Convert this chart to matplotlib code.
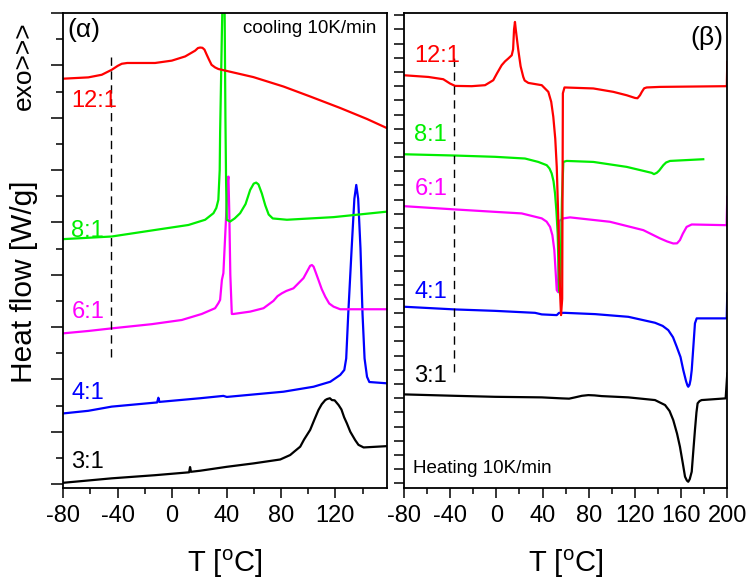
import matplotlib
matplotlib.use('Agg')
import matplotlib.pyplot as plt
from matplotlib.ticker import MultipleLocator, FixedLocator

plt.rcParams['font.family'] = ['Liberation Sans', 'DejaVu Sans']
plt.rcParams['axes.unicode_minus'] = False

# ---- cooling (alpha) ----
c12_T = [-80, -61.6, -51.7, -44.4, -40, -37, -33, -29.7, -12.5, -0.2, 9.6, 16.9, 19, 20.6, 22.3, 23.8, 25.5, 27.2, 29, 31.6, 34, 39, 59.8, 81.9, 101.5, 123.6, 143.3, 158]
c12_y = [15.49, 15.54, 15.64, 15.83, 15.98, 16.06, 16.09, 16.09, 16.09, 16.18, 16.34, 16.56, 16.66, 16.68, 16.67, 16.6, 16.4, 16.21, 16.02, 15.92, 15.86, 15.8, 15.55, 15.19, 14.81, 14.37, 13.95, 13.6]

c8_T = [-80, -44.4, -12.5, 12, 24.3, 30.4, 32.5, 34, 35, 35.3, 36.6, 37.3, 38.2, 39.2, 39.7, 40.2, 42.6, 46, 50, 54, 57.4, 60, 61.8, 63.5, 66, 68.5, 71, 74, 84.4, 118.7, 158]
c8_y = [9.36, 9.46, 9.71, 9.9, 10.1, 10.35, 10.55, 10.86, 12.0, 13.42, 17.25, 19.0, 21.0, 14.0, 11.5, 10.1, 10.03, 10.15, 10.35, 10.7, 11.24, 11.48, 11.52, 11.45, 11.1, 10.65, 10.3, 10.15, 10.1, 10.2, 10.41]

c6_T = [-80, -61.6, -44.4, -15, 7.1, 21.8, 31.6, 34, 35.3, 36.6, 37.7, 39.5, 40.8, 41.4, 42, 42.8, 43.9, 45.1, 57.4, 67.2, 74.5, 77.5, 80.7, 84, 89.2, 96.6, 99, 101.5, 102.8, 104, 105.5, 107.6, 110, 112.6, 115.5, 118.7, 123.6, 158]
c6_y = [5.76, 5.85, 5.95, 6.11, 6.27, 6.5, 6.72, 6.91, 7.04, 7.8, 8.06, 10.0, 11.5, 11.75, 10.5, 8.0, 6.5, 6.5, 6.59, 6.72, 7.0, 7.18, 7.29, 7.38, 7.48, 7.87, 8.1, 8.34, 8.37, 8.31, 8.1, 7.8, 7.45, 7.16, 6.9, 6.78, 6.68, 6.68]

c4_T = [-80, -61.6, -44.4, -11, -10.1, -9.3, 20.6, 37.7, 40.2, 81.9, 104, 116.3, 123.6, 126.6, 128, 129.5, 132, 134, 135.4, 136.8, 138.5, 140, 141.5, 143.3, 145, 158]
c4_y = [2.7, 2.8, 2.96, 3.12, 3.3, 3.14, 3.28, 3.37, 3.33, 3.53, 3.72, 3.91, 4.17, 4.36, 4.8, 6.5, 9.0, 10.9, 11.43, 10.9, 9.0, 6.5, 4.8, 4.1, 3.9, 3.85]

c3_T = [-80, -44.4, -12.5, 12.5, 13.2, 13.9, 20.6, 40.2, 59.8, 79.5, 86.8, 90, 94.2, 97, 101.5, 104.5, 107.6, 110, 112.6, 114, 116, 117.5, 119.5, 122.4, 124.5, 126.5, 128.5, 131, 134.6, 137, 140.8, 158]
c3_y = [0.05, 0.22, 0.34, 0.45, 0.65, 0.47, 0.51, 0.66, 0.79, 0.94, 1.11, 1.25, 1.43, 1.7, 2.07, 2.45, 2.83, 3.05, 3.21, 3.25, 3.28, 3.21, 3.2, 3.02, 2.85, 2.55, 2.32, 2.0, 1.68, 1.5, 1.4, 1.45]

# ---- heating (beta) ----
h12_T = [-80, -58.9, -46, -40.2, -35.8, -21.4, -9.8, -2.7, 0.5, 4.6, 7.5, 10.3, 13.3, 14.5, 15.3, 16.1, 16.8, 18, 19, 21, 23.3, 24.5, 27.7, 39.3, 45, 47.5, 49.3, 51, 52.3, 53.5, 54.5, 55.3, 56, 57, 57.6, 59, 84, 101.3, 112.9, 120.1, 122.2, 124.4, 126, 128, 130.2, 141.7, 199.6, 200]
h12_y = [28.77, 28.65, 28.49, 28.19, 28.02, 28.0, 28.07, 28.42, 28.9, 29.48, 29.75, 29.95, 30.18, 30.6, 32.0, 32.53, 32.0, 31.2, 30.54, 29.4, 28.65, 28.4, 28.23, 28.07, 27.6, 26.9, 25.84, 24.3, 22.31, 19.0, 15.26, 13.2, 11.86, 13.0, 27.5, 27.91, 27.84, 27.6, 27.36, 27.17, 27.15, 27.36, 27.6, 27.85, 27.91, 27.95, 28.0, 29.71]

h8_T = [-80, -35.8, -1.2, 24.8, 36.3, 43.6, 46, 47.9, 49.5, 50.8, 52, 53.1, 54.3, 55.3, 56.8, 58, 60.9, 84, 112.9, 127.3, 134.5, 136.5, 138.9, 141, 144.6, 147, 150.4, 179.2]
h8_y = [23.2, 23.11, 23.02, 22.9, 22.66, 22.43, 22.2, 21.85, 21.3, 20.44, 19.2, 17.62, 13.62, 13.3, 20.0, 22.66, 22.73, 22.66, 22.31, 22.03, 21.89, 21.8, 21.89, 22.05, 22.43, 22.62, 22.73, 22.85]

h6_T = [-80, -35.8, -1.2, 21.9, 39.3, 43.5, 46.5, 48.5, 50.2, 52.3, 53.5, 54.5, 58, 63.8, 98.4, 127.3, 141.7, 148, 153.2, 156.5, 159, 161.5, 164.8, 169.2, 199.4, 200]
h6_y = [19.54, 19.31, 19.14, 19.03, 18.68, 18.45, 18.08, 17.5, 16.44, 13.62, 13.48, 18.5, 18.68, 18.75, 18.44, 17.85, 17.27, 17.05, 16.91, 16.92, 17.15, 17.6, 18.08, 18.25, 18.2, 20.2]

h4_T = [-80, -35.8, -1.2, 33.5, 39.3, 52.3, 54.3, 59.4, 85.4, 114.3, 137.4, 144, 148.9, 153, 156.2, 159.5, 161.9, 164.3, 165.5, 166.2, 167.3, 168.2, 169.2, 170.5, 172, 173.5, 199.5, 200]
h4_y = [12.45, 12.26, 12.16, 12.02, 11.91, 11.86, 12.02, 12.02, 11.93, 11.74, 11.32, 11.1, 10.8, 10.3, 9.63, 8.9, 7.98, 7.2, 6.9, 6.81, 6.95, 7.3, 7.98, 9.5, 11.28, 11.63, 11.63, 13.39]

h3_T = [-80, -35.8, -1.2, 39.3, 56.6, 63, 68.1, 74, 79.6, 85, 91.2, 114.3, 137.4, 146.1, 150, 153.2, 156.5, 159, 161.5, 163.4, 165, 166.2, 167.5, 169.2, 170.5, 172, 173.3, 174.3, 176, 177.8, 198.6, 200]
h3_y = [6.27, 6.17, 6.1, 6.06, 5.99, 5.97, 6.06, 6.17, 6.22, 6.2, 6.15, 6.06, 5.87, 5.52, 5.1, 4.46, 3.5, 2.58, 1.4, 0.47, 0.2, 0.11, 0.3, 0.82, 2.2, 3.76, 5.0, 5.64, 5.8, 5.87, 5.99, 7.75]

ratios = ['3:1', '4:1', '6:1', '8:1', '12:1']
colors = ['black', '#0000ff', '#ff00ff', '#00ee00', '#ff0000']
cool_label_y = [0.84, 3.48, 6.56, 9.67, 14.65]
heat_label_y = [7.56, 13.48, 20.74, 24.55, 30.1]

fig = plt.figure(figsize=(7.49, 5.80), dpi=100)
ax1 = fig.add_axes([0.0845, 0.1586, 0.4322, 0.819])
ax2 = fig.add_axes([0.5394, 0.1586, 0.4316, 0.819])

cool = [(c3_T, c3_y), (c4_T, c4_y), (c6_T, c6_y), (c8_T, c8_y), (c12_T, c12_y)]
heat = [(h3_T, h3_y), (h4_T, h4_y), (h6_T, h6_y), (h8_T, h8_y), (h12_T, h12_y)]

for (t, y), c in zip(cool, colors):
    ax1.plot(t, y, color=c, linewidth=1.6, solid_joinstyle='round')
for (t, y), c in zip(heat, colors):
    ax2.plot(t, y, color=c, linewidth=1.6, solid_joinstyle='round')

for name, c, ly in zip(ratios, colors, cool_label_y):
    ax1.text(-74, ly, name, color=c, fontsize=17, va='center', ha='left')
for name, c, ly in zip(ratios, colors, heat_label_y):
    ax2.text(-71, ly, name, color=c, fontsize=17, va='center', ha='left')

ax1.plot([-45, -45], [4.86, 16.49], color='black', linewidth=1, dashes=(6, 4))
ax2.plot([-37, -37], [7.84, 30.3], color='black', linewidth=1, dashes=(6, 4))

ax1.text(-77, 17.36, '(α)', fontsize=19, va='center', ha='left')
ax1.text(150, 17.4, 'cooling 10K/min', fontsize=13.5, va='center', ha='right')
ax2.text(197, 31.4, '(β)', fontsize=19, va='center', ha='right')
ax2.text(-72, 1.08, 'Heating 10K/min', fontsize=13.5, va='center', ha='left')

ax1.set_xlim(-80, 158)
ax1.set_ylim(-0.15, 18.0)
ax2.set_xlim(-80, 200)
ax2.set_ylim(-0.33, 33.16)

ax1.xaxis.set_major_locator(FixedLocator([-80, -40, 0, 40, 80, 120]))
ax1.xaxis.set_minor_locator(MultipleLocator(20))
ax1.yaxis.set_major_locator(MultipleLocator(2))
ax1.yaxis.set_minor_locator(MultipleLocator(1))
ax2.xaxis.set_major_locator(MultipleLocator(40))
ax2.xaxis.set_minor_locator(MultipleLocator(20))
ax2.yaxis.set_major_locator(MultipleLocator(1))

for ax in (ax1, ax2):
    ax.tick_params(axis='both', which='both', direction='out', width=1.1, labelsize=17)
    ax.tick_params(axis='x', which='major', length=7, pad=5)
    ax.tick_params(axis='x', which='minor', length=4)
    ax.tick_params(axis='y', which='major', length=9, labelleft=False)
    ax.tick_params(axis='y', which='minor', length=5, labelleft=False)
    for sp in ax.spines.values():
        sp.set_linewidth(1.3)
    ax.set_xlabel('T [$^\\mathregular{o}$C]', fontsize=21, labelpad=15)
ax2.tick_params(axis='y', which='major', length=7)

fig.text(0.032, 0.515, 'Heat flow [W/g]', rotation=90, fontsize=21.5, ha='center', va='center')
fig.text(0.032, 0.886, 'exo>>>', rotation=90, fontsize=19, ha='center', va='center')

fig.savefig('out.png', dpi=100)
